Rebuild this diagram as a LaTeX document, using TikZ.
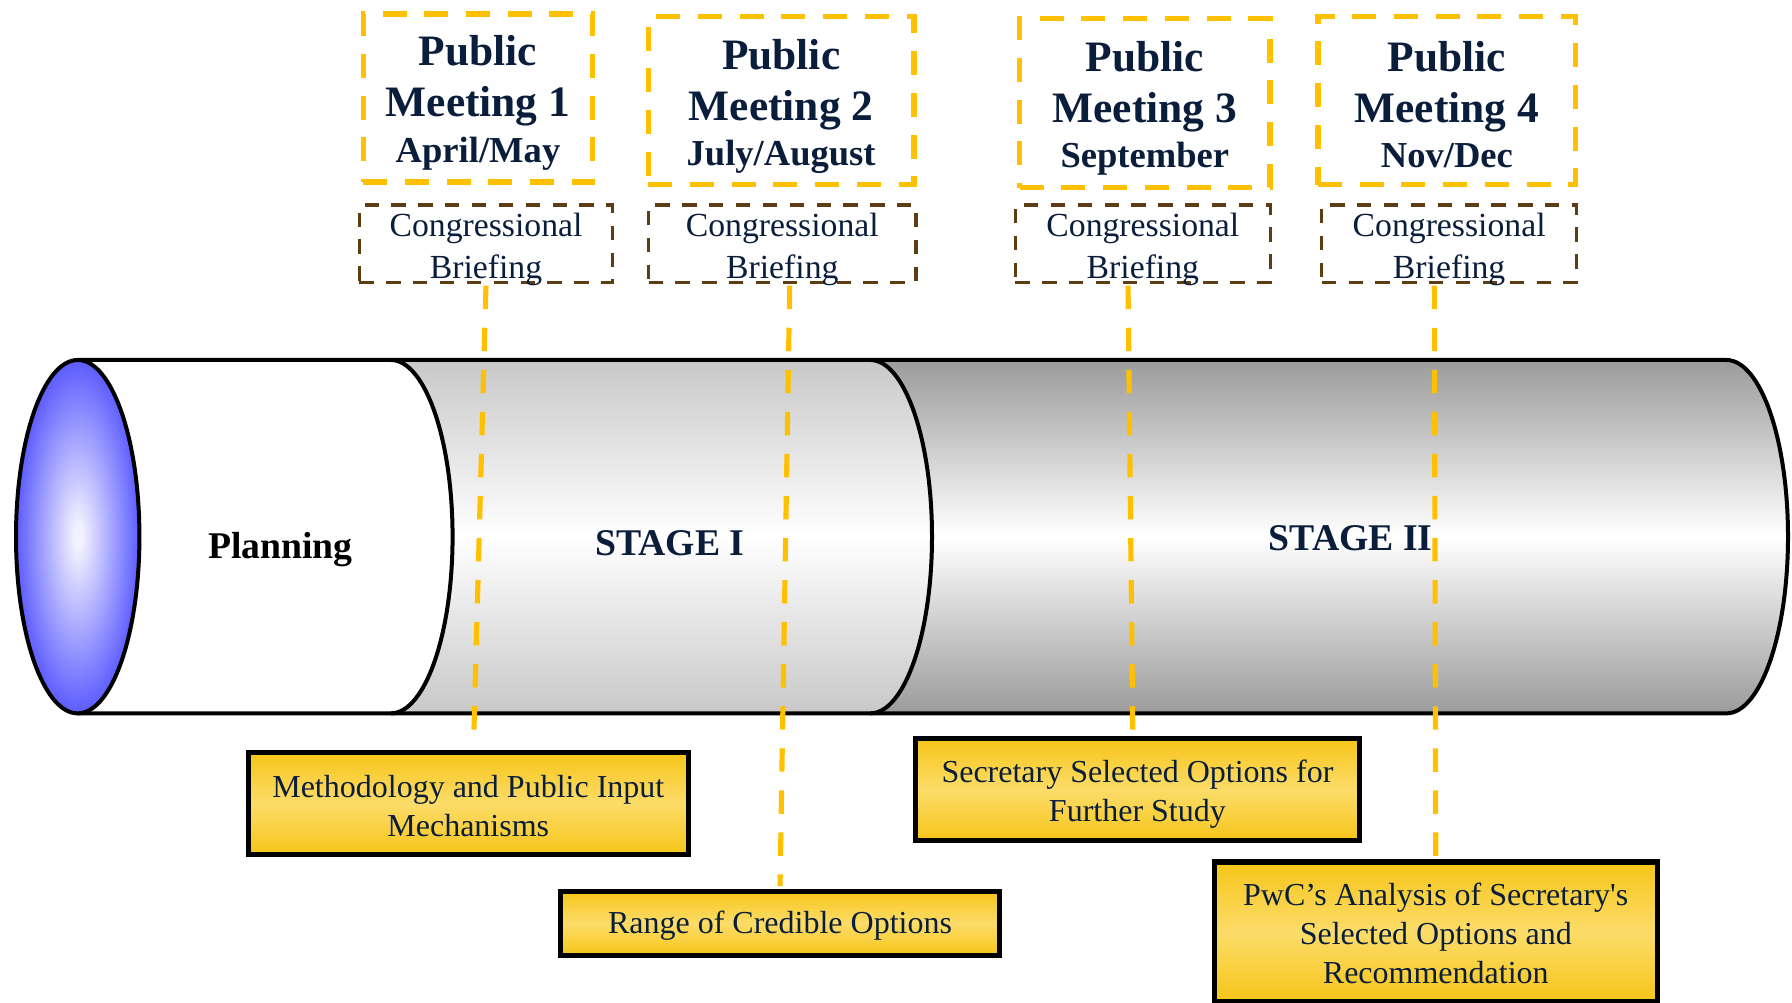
\documentclass[tikz,border=0pt]{standalone}
\usepackage{fontspec}
\setmainfont{Liberation Serif}[Ligatures=TeXOff]
\usetikzlibrary{calc}
\definecolor{navy}{RGB}{10,30,60}
\definecolor{gold}{RGB}{255,192,0}
\definecolor{brownd}{RGB}{94,60,20}
\definecolor{fillgold}{RGB}{246,197,24}
\definecolor{fillgoldlight}{RGB}{252,220,105}
\definecolor{ellblue}{RGB}{92,92,255}
\definecolor{gIcol}{RGB}{200,200,200}
\definecolor{gIIcol}{RGB}{155,155,155}
\pgfdeclareradialshading{lensblue}{\pgfpoint{0bp}{0bp}}{color(0bp)=(white!96!blue); color(2bp)=(white!94!blue); color(25bp)=(ellblue); color(50bp)=(ellblue)}
\begin{document}
\begin{tikzpicture}[x=1pt,y=1pt,
  pmbox/.style={draw=gold, line width=4.5pt, dash pattern=on 21pt off 15.5pt},
  briefbox/.style={draw=brownd, line width=3pt, dash pattern=on 12.5pt off 11pt, minimum height=67.5pt},
  pmtext/.style={text=navy, align=center, font=\fontsize{38}{44.5}\selectfont\bfseries, inner sep=0pt},
  brieftext/.style={text=navy, align=center, font=\fontsize{29.5}{36}\selectfont, inner sep=0pt},
  outbox/.style={draw=black, line width=4.5pt, top color=fillgold, bottom color=fillgold, middle color=fillgoldlight, inner sep=0pt},
  outtext/.style={text=navy, align=center, font=\fontsize{28}{34}\selectfont, inner sep=0pt},
  stagetext/.style={font=\fontsize{33}{40}\selectfont\bfseries, text=navy, anchor=base},
  link/.style={draw=gold, line width=4.5pt, dash pattern=on 20.5pt off 16.3pt, shorten <=1.5pt, shorten >=2.25pt},
  cyl/.style={draw=black, line width=3.5pt, line join=round}
]
\useasboundingbox (0,0) rectangle (1568,877);

% cylinder segments
\path[top color=gIIcol, bottom color=gIIcol, middle color=white]
  (761.5,562) -- (1510.5,562) arc[start angle=90,end angle=-90,x radius=54,y radius=154.6] -- (761.5,252.8) -- cycle;
\path[top color=gIcol, bottom color=gIcol, middle color=white]
  (342,562) -- (761.5,562) arc[start angle=90,end angle=-90,x radius=54,y radius=154.6] -- (342,252.8) -- cycle;
\path[fill=white]
  (68,562) -- (342,562) arc[start angle=90,end angle=-90,x radius=54,y radius=154.6] -- (68,252.8) -- cycle;
\draw[cyl] (68,562) -- (1510.5,562) arc[start angle=90,end angle=-90,x radius=54,y radius=154.6] -- (68,252.8);
\draw[cyl] (342,562) arc[start angle=90,end angle=-90,x radius=54,y radius=154.6];
\draw[cyl] (761.5,562) arc[start angle=90,end angle=-90,x radius=54,y radius=154.6];
\draw[cyl, shade, shading=lensblue] (68,407.4) ellipse [x radius=54, y radius=154.6];

% stage labels
\node[stagetext, text=black] (plan) at (245.4,388.5) {Planning};
\node[stagetext] (st1) at (586,390.5) {STAGE I};
\node[stagetext] (st2) at (1181.8,395.2) {STAGE II};

% public meetings
\node[pmbox, minimum width=201pt, minimum height=147pt] (pm1) at (418.25,791.25) {};
\node[pmtext] (pm1t) at ($(pm1)+(0,-4.5)$) {Public\\Meeting 1\\[-4.5pt]{\fontsize{32}{40}\selectfont April/May}};
\node[pmbox, minimum width=232.5pt, minimum height=147pt] (pm2) at (683.5,788.75) {};
\node[pmtext] (pm2t) at ($(pm2)+(0,-5)$) {Public\\Meeting 2\\[-4.5pt]{\fontsize{32}{40}\selectfont July/August}};
\node[pmbox, minimum width=219pt, minimum height=148pt] (pm3) at (1001.75,786.75) {};
\node[pmtext] (pm3t) at ($(pm3)+(0,-4.5)$) {Public\\Meeting 3\\[-4.5pt]{\fontsize{32}{40}\selectfont September}};
\node[pmbox, minimum width=225.5pt, minimum height=147.5pt] (pm4) at (1266,789) {};
\node[pmtext] (pm4t) at ($(pm4)+(0,-3.5)$) {Public\\Meeting 4\\[-4.5pt]{\fontsize{32}{40}\selectfont Nov/Dec}};

% briefings
\node[briefbox, minimum width=221.5pt] (b1) at (425.25,663.75) {};
\node[brieftext] (b1t) at ($(b1)+(0,-5)$) {Congressional\\Briefing};
\node[briefbox, minimum width=234pt] (b2) at (684.5,663.75) {};
\node[brieftext] (b2t) at ($(b2)+(0,-5)$) {Congressional\\Briefing};
\node[briefbox, minimum width=223pt] (b3) at (1000,663.75) {};
\node[brieftext] (b3t) at ($(b3)+(0,-5)$) {Congressional\\Briefing};
\node[briefbox, minimum width=223pt] (b4) at (1268,663.75) {};
\node[brieftext] (b4t) at ($(b4)+(0,-5)$) {Congressional\\Briefing};

% outcome boxes
\node[outbox, minimum width=385pt, minimum height=89.5pt] (m1) at (409.75,174) {};
\node[outtext] (m1t) at ($(m1)+(0,-2)$) {Methodology and Public Input\\Mechanisms};
\node[outbox, minimum width=384.5pt, minimum height=56pt] (r2) at (682.5,69.2) {};
\node[outtext] (r2t) at ($(r2)+(0,-2.5)$) {Range of Credible Options};
\node[outbox, minimum width=389pt, minimum height=89.5pt] (s3) at (995.25,186) {};
\node[outtext] (s3t) at ($(s3)+(0,-4)$) {Secretary Selected Options for\\Further Study};
\node[outbox, minimum width=388pt, minimum height=122.3pt] (p4) at (1256.3,61.6) {};
\node[outtext] (p4t) at ($(p4)+(0,-1.5)$) {PwC’s Analysis of Secretary's\\Selected Options and\\Recommendation};

% links
\draw[link] (b1.south) -- ($(m1.north)+(4.5,0)$);
\draw[link] ($(b2.south)+(6.5,0)$) -- (r2.north);
\draw[link] ($(b3.south)+(-13,0)$) -- ($(s3.north)+(-4,0)$);
\draw[link] ($(b4.south)+(-13,0)$) -- (p4.north);
\end{tikzpicture}
\end{document}
